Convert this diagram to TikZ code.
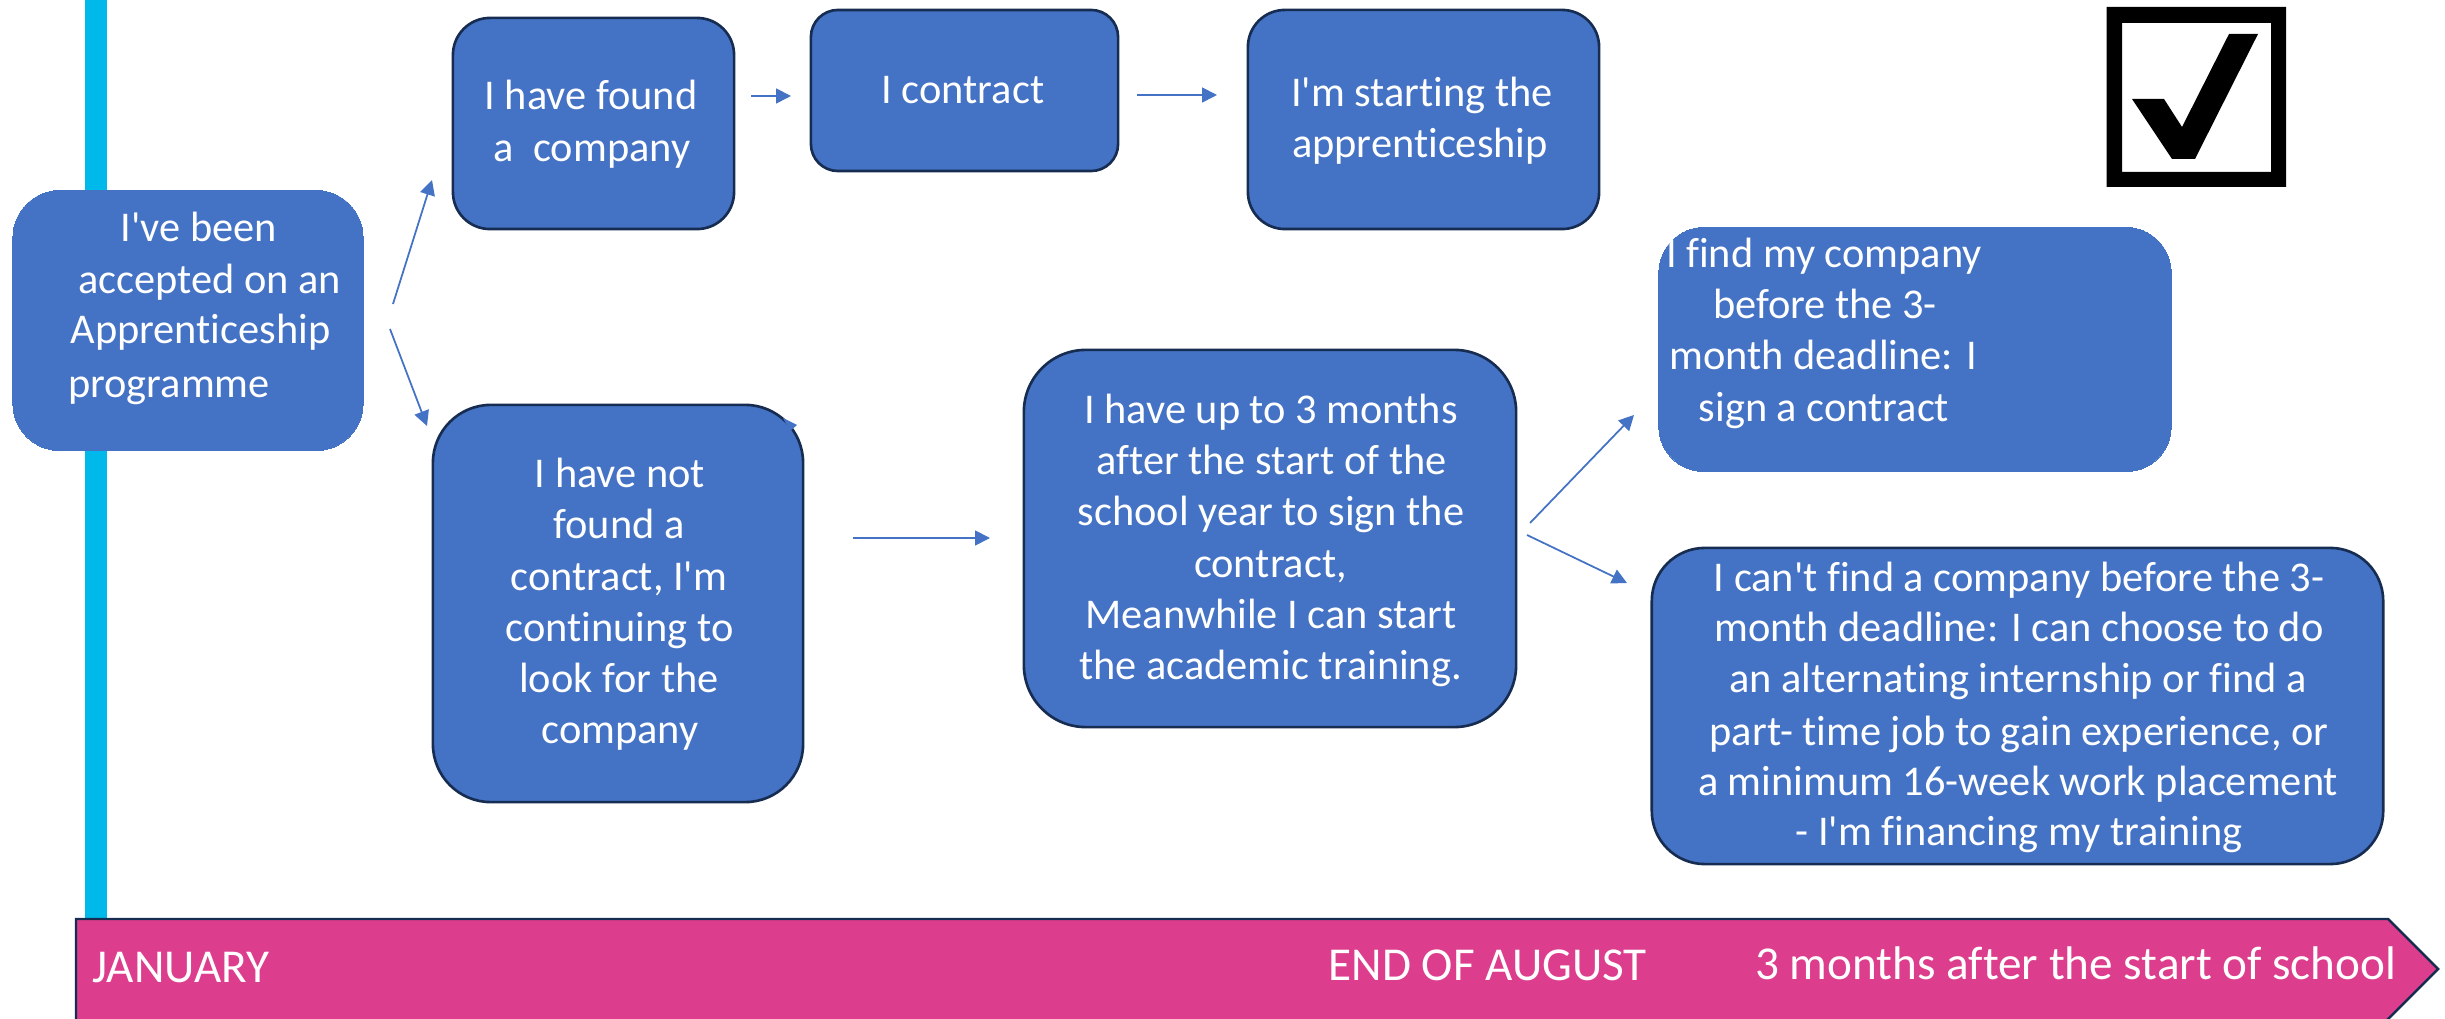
\documentclass[tikz,border=0pt]{standalone}
\usepackage{fontspec}
\setmainfont{Carlito}[Ligatures=NoCommon]
\usetikzlibrary{arrows.meta}
\definecolor{boxblue}{HTML}{4472C4}
\definecolor{navy}{HTML}{172C51}
\definecolor{barcyan}{HTML}{00B9EB}
\definecolor{bandpink}{HTML}{DD3D8D}
\newcommand{\apos}{\textquotesingle}
\tikzset{
  box/.style={fill=boxblue,draw=#1,line width=0.75pt,inner sep=0pt,outer sep=0pt},
  box/.default=navy,
  line/.style={text=white,font=\fontsize{12.05}{15}\selectfont,anchor=base,inner sep=0pt,yshift=-0.01cm},
  bandtext/.style={text=white,font=\fontsize{13.42}{16}\selectfont,anchor=base,inner sep=0pt},
  conn/.style={draw=boxblue,line width=0.5pt,-{Triangle[length=0.15cm,width=0.15cm]}},
}
\begin{document}
\begin{tikzpicture}[x=0.01cm,y=-0.01cm]
\useasboundingbox (0,0) rectangle (2445,1019);
% vertical bar
\fill[barcyan] (85,0) rectangle (107,925);
% boxes
\node[box=boxblue,line width=0pt,minimum width=3.50cm,minimum height=2.60cm,rounded corners=0.47cm] (a) at (188,320.5) {};
\node[box,minimum width=2.81cm,minimum height=2.11cm,rounded corners=0.37cm] (b) at (593.5,123.5) {};
\node[box,minimum width=3.07cm,minimum height=1.61cm,rounded corners=0.27cm] (c) at (964.5,90.5) {};
\node[box,minimum width=3.51cm,minimum height=2.19cm,rounded corners=0.37cm] (d) at (1423.5,119.5) {};
\node[box,minimum width=3.70cm,minimum height=3.97cm,rounded corners=0.58cm] (e) at (618,603.5) {};
\node[box,minimum width=4.92cm,minimum height=3.77cm,rounded corners=0.62cm] (f) at (1270,538.5) {};
\node[box=boxblue,line width=0pt,minimum width=5.12cm,minimum height=2.44cm,rounded corners=0.45cm] (g) at (1915,349.5) {};
\node[box,minimum width=7.31cm,minimum height=3.16cm,rounded corners=0.53cm] (h) at (2017.5,706) {};
% stray arrow tip on the box corner
\fill[boxblue] (783,418) -- (797,425) -- (790,431) -- cycle;
% box texts
\node[line] (a1) at (199,241) {I\apos ve been};
\node[line] (a2) at (209.5,293) {accepted on an};
\node[line] (a3) at (200.5,343) {Apprenticeship};
\node[line] (a4) at (169,397) {programme};
\node[line] (b1) at (591,109) {I have found};
\node[line] (b2) at (592,161) {a\ \ company};
\node[line] (c1) at (963,103) {I contract};
\node[line] (d1) at (1422,106) {I\apos m starting the};
\node[line] (d2) at (1420,157) {apprenticeship};
\node[line] (e1) at (620,487) {I have not};
\node[line] (e2) at (619,538) {found a};
\node[line] (e3) at (619,590) {contract, I\apos m};
\node[line] (e4) at (619.5,641) {continuing to};
\node[line] (e5) at (619,692) {look for the};
\node[line] (e6) at (620,743) {company};
\node[line] (f1) at (1271,423) {I have up to 3 months};
\node[line] (f2) at (1271.5,474) {after the start of the};
\node[line] (f3) at (1271,525) {school year to sign the};
\node[line] (f4) at (1270.5,577) {contract,};
\node[line] (f5) at (1271,628) {Meanwhile I can start};
\node[line] (f6) at (1270.5,679) {the academic training.};
\node[line] (g1) at (1824,267) {I find my company};
\node[line] (g2) at (1825,318) {before the 3-};
\node[line] (g3) at (1823,369) {month deadline: I};
\node[line] (g4) at (1824,421) {sign a contract};
\node[line] (h1) at (2019,591) {I can\apos t find a company before the 3-};
\node[line] (h2) at (2019,641) {month deadline: I can choose to do};
\node[line] (h3) at (2018,692) {an alternating internship or find a};
\node[line] (h4) at (2019,744) {part- time job to gain experience, or};
\node[line] (h5) at (2018,795) {a minimum 16-week work placement};
\node[line] (h6) at (2019,845) {- I\apos m financing my training};
% connectors
\coordinate (s1) at (393,304); \coordinate (t1) at (432,180);
\coordinate (s2) at (390,329); \coordinate (t2) at (427,426);
\coordinate (s3) at (751,96);  \coordinate (t3) at (791,96);
\coordinate (s4) at (1137,95); \coordinate (t4) at (1217,95);
\coordinate (s5) at (853,538); \coordinate (t5) at (990,538);
\coordinate (s6) at (1530,523);\coordinate (t6) at (1634,415);
\coordinate (s7) at (1527,535);\coordinate (t7) at (1627,583);
\draw[conn] (s1) -- (t1);
\draw[conn] (s2) -- (t2);
\draw[conn] (s3) -- (t3);
\draw[conn] (s4) -- (t4);
\draw[conn] (s5) -- (t5);
\draw[conn] (s6) -- (t6);
\draw[conn] (s7) -- (t7);
% timeline band
\draw[fill=bandpink,draw=navy,line width=0.7pt,line join=miter]
  (76,919) -- (2388,919) -- (2438,969) -- (2388,1019) -- (2388,1030) -- (76,1030) -- cycle;
\node[bandtext,anchor=base west] (jan) at (92,982) {JANUARY};
\node[bandtext,anchor=base west] (aug) at (1328,980) {END OF AUGUST};
\node[bandtext,anchor=base east] (sch) at (2397,979) {3 months after the start of school};
% check box
\fill[black,even odd rule] (2106.5,7) rectangle (2286,187) (2122,23) rectangle (2271,172);
\fill[black] (2132,99) -- (2164,99) -- (2182,127) -- (2229,34) -- (2258,34) -- (2195,159) -- (2172,159) -- cycle;
\end{tikzpicture}
\end{document}
